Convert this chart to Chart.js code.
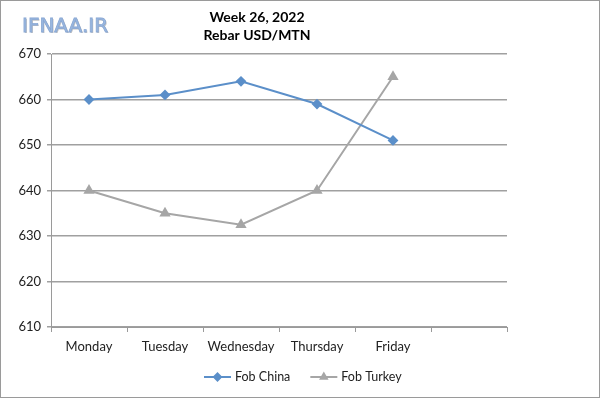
<!DOCTYPE html>
<html>
<head>
<meta charset="utf-8">
<script src="https://cdn.jsdelivr.net/npm/chart.js@4"></script>
<style>
  html, body { margin: 0; padding: 0; background: #fff; }
  #wrap { width: 598px; height: 396px; border: 1px solid #9a9a9a; }
</style>
</head>
<body>
<div id="wrap"><canvas id="chart" width="598" height="396"></canvas></div>
<script>
// data
const days = ['Monday', 'Tuesday', 'Wednesday', 'Thursday', 'Friday', ''];
const fobChina = [660, 661, 664, 659, 651, null];
const fobTurkey = [640, 635, 632.5, 640, 665, null];
const titleLines = ['Week 26, 2022', 'Rebar USD/MTN'];
const yMin = 610, yMax = 670, yStep = 10;

const FONT = 'Lato, "Open Sans", sans-serif';

// title + watermark + legend drawn by hand to match the excel look
const decorations = {
  id: 'decorations',
  afterDraw(chart) {
    const ctx = chart.ctx;
    ctx.save();

    // watermark
    ctx.font = '20px "DejaVu Sans", sans-serif';
    ctx.textAlign = 'left';
    ctx.textBaseline = 'middle';
    ctx.fillStyle = '#c4c4c4';
    ctx.fillText('IFNAA.IR', 22, 27);
    ctx.fillStyle = '#9ab8e0';
    ctx.strokeStyle = '#8aa8d4';
    ctx.lineWidth = 0.8;
    ctx.fillText('IFNAA.IR', 21, 26);
    ctx.strokeText('IFNAA.IR', 21, 26);

    // title
    ctx.fillStyle = '#000';
    ctx.font = 'bold 14px ' + FONT;
    ctx.textAlign = 'center';
    ctx.fillText(titleLines[0], 256, 16);
    ctx.fillText(titleLines[1], 256, 34);

    // legend
    ctx.font = '12.5px ' + FONT;
    ctx.textAlign = 'left';
    let x = 203;
    const y = 376;
    chart.data.datasets.forEach(ds => {
      ctx.strokeStyle = ds.borderColor;
      ctx.lineWidth = 2;
      ctx.beginPath();
      ctx.moveTo(x, y);
      ctx.lineTo(x + 27, y);
      ctx.stroke();
      Chart.helpers.drawPoint(ctx, {
        pointStyle: ds.pointStyle, radius: 3.5, rotation: 0, borderWidth: 1
      }, x + 13.5, y);
      ctx.fillStyle = ds.pointBackgroundColor;
      ctx.fill();
      ctx.fillStyle = '#222';
      ctx.fillText(ds.label, x + 31, y);
      x += 31 + ctx.measureText(ds.label).width + 20;
    });
    ctx.restore();
  }
};

new Chart(document.getElementById('chart'), {
  type: 'line',
  data: {
    labels: days,
    datasets: [
      {
        label: 'Fob China',
        data: fobChina,
        borderColor: '#5b8fc9',
        backgroundColor: '#5b8fc9',
        pointBackgroundColor: '#5b8fc9',
        pointBorderColor: '#5b8fc9',
        pointStyle: 'rectRot',
        pointRadius: 4,
        borderWidth: 2,
        tension: 0
      },
      {
        label: 'Fob Turkey',
        data: fobTurkey,
        borderColor: '#a6a6a6',
        backgroundColor: '#a6a6a6',
        pointBackgroundColor: '#a6a6a6',
        pointBorderColor: '#a6a6a6',
        pointStyle: 'triangle',
        pointRadius: 4.5,
        borderWidth: 2,
        tension: 0
      }
    ]
  },
  options: {
    responsive: false,
    animation: false,
    layout: { padding: { top: 53, right: 92, left: 0, bottom: 0 } },
    plugins: {
      legend: { display: false },
      title: { display: false },
      tooltip: { enabled: false }
    },
    scales: {
      x: {
        offset: true,
        grid: {
          offset: true,
          drawOnChartArea: false,
          drawTicks: true,
          tickLength: 5,
          color: '#9a9a9a'
        },
        border: { color: '#9a9a9a', width: 1 },
        ticks: {
          color: '#222',
          font: { family: FONT, size: 13 },
          padding: 7,
          maxRotation: 0,
          autoSkip: false
        },
        afterFit: s => { s.height = 70; }
      },
      y: {
        min: yMin,
        max: yMax,
        grid: {
          color: '#a0a0a0',
          tickLength: 4,
          lineWidth: 1.5
        },
        border: { color: '#9a9a9a', width: 1 },
        ticks: {
          stepSize: yStep,
          color: '#222',
          font: { family: FONT, size: 13 },
          padding: 6
        },
        afterFit: s => { s.width = 50; }
      }
    }
  },
  plugins: [decorations]
});
</script>
</body>
</html>
